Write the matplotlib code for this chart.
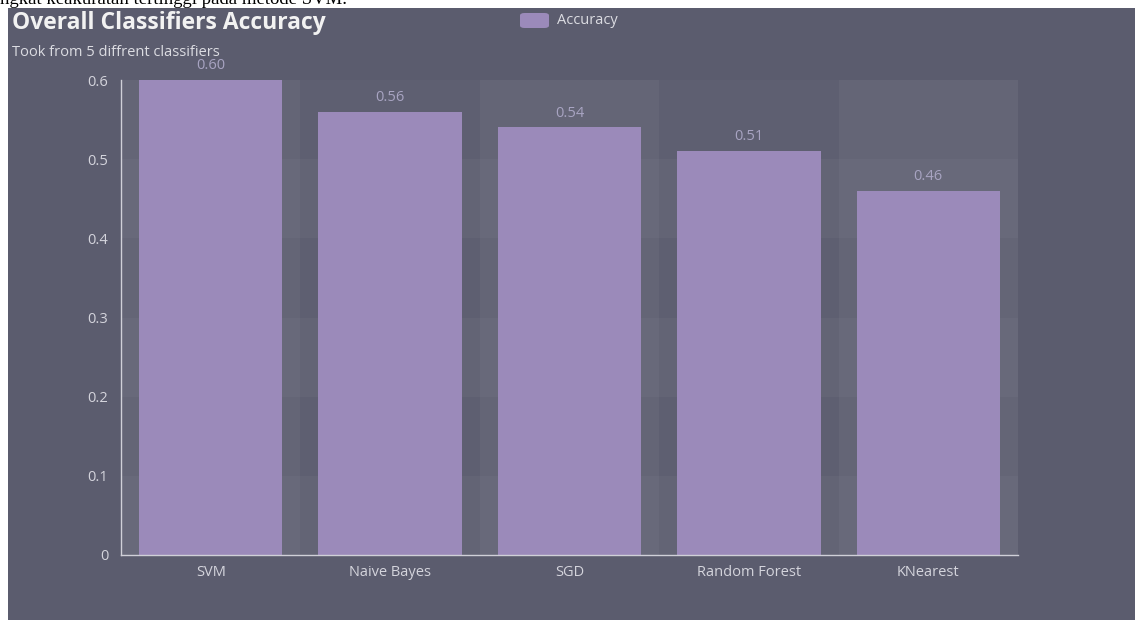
import matplotlib.pyplot as plt
from matplotlib.patches import Rectangle, FancyBboxPatch
import numpy as np

# data
classifiers = ['SVM', 'Naive Bayes', 'SGD', 'Random Forest', 'KNearest']
accuracy = [0.60, 0.56, 0.54, 0.51, 0.46]
yticks = [0, 0.1, 0.2, 0.3, 0.4, 0.5, 0.6]
ytick_labels = ['0', '0.1', '0.2', '0.3', '0.4', '0.5', '0.6']

bg = '#5b5c6e'
bar_color = '#9b8aba'
font = ['Open Sans', 'DejaVu Sans']

plt.rcParams['font.family'] = font

fig = plt.figure(figsize=(11.35, 6.2), dpi=100, facecolor='white')
W, H = 1135.0, 620.0

# dark panel (screenshot has a white margin on top/left)
fig.patches.append(Rectangle((8 / W, 0), 1 - 8 / W, 1 - 8 / H, transform=fig.transFigure,
                             facecolor=bg, edgecolor='none', zorder=-10))
# cropped line of document text above the chart
fig.text(0, 1 - 4.5 / H, 'ngkat keakuratan tertinggi pada metode SVM.', family='Liberation Serif',
         fontsize=13.5, color='black', va='baseline', ha='left')

ax = fig.add_axes([121 / W, 65 / H, (1018 - 121) / W, (555 - 80) / H])
ax.set_facecolor('none')
ax.set_zorder(2)

x = np.arange(len(classifiers))
ax.set_xlim(-0.5, len(classifiers) - 0.5)
ax.set_ylim(0, 0.6)

# split areas (columns and rows)
for i in x:
    a = 0.06 if i % 2 == 0 else 0.025
    ax.axvspan(i - 0.5, i + 0.5, color='white', alpha=a, lw=0, zorder=0)
for j in range(len(yticks) - 1):
    if j % 2 == 0:
        ax.axhspan(yticks[j], yticks[j + 1], color='white', alpha=0.03, lw=0, zorder=0)

bars = ax.bar(x, accuracy, width=0.8, color=bar_color, zorder=2)
ax.bar_label(bars, labels=['%.2f' % v for v in accuracy], padding=5,
             color='#a8a4c2', fontsize=10.5)

for s in ['top', 'right']:
    ax.spines[s].set_visible(False)
for s in ['left', 'bottom']:
    ax.spines[s].set_color('#d0d0d8')
    ax.spines[s].set_linewidth(1)

ax.set_xticks(x)
ax.set_xticklabels(classifiers)
ax.set_yticks(yticks)
ax.set_yticklabels(ytick_labels)
ax.tick_params(axis='both', length=0, colors='#d4d4dc', labelsize=10.5)
ax.tick_params(axis='x', pad=7)
ax.tick_params(axis='y', pad=9)

# title / subtitle
fig.text(12 / W, 1 - 29 / H, 'Overall Classifiers Accuracy', fontsize=16.5, fontweight='bold',
         color='#f2f2f2', va='baseline', ha='left')
fig.text(12 / W, 1 - 56 / H, 'Took from 5 diffrent classifiers', fontsize=10.5,
         color='#dcdce2', va='baseline', ha='left')

# legend
fig.patches.append(FancyBboxPatch((520 / W, 1 - 28 / H), 29 / W, 15 / H,
                                  boxstyle='round,pad=0,rounding_size=0.004',
                                  transform=fig.transFigure, facecolor=bar_color,
                                  edgecolor='none', zorder=3))
fig.text(557 / W, 1 - 20 / H, 'Accuracy', fontsize=10.5, color='#dcdce2', va='center', ha='left')

fig.savefig('out.png', dpi=100, facecolor='white')
